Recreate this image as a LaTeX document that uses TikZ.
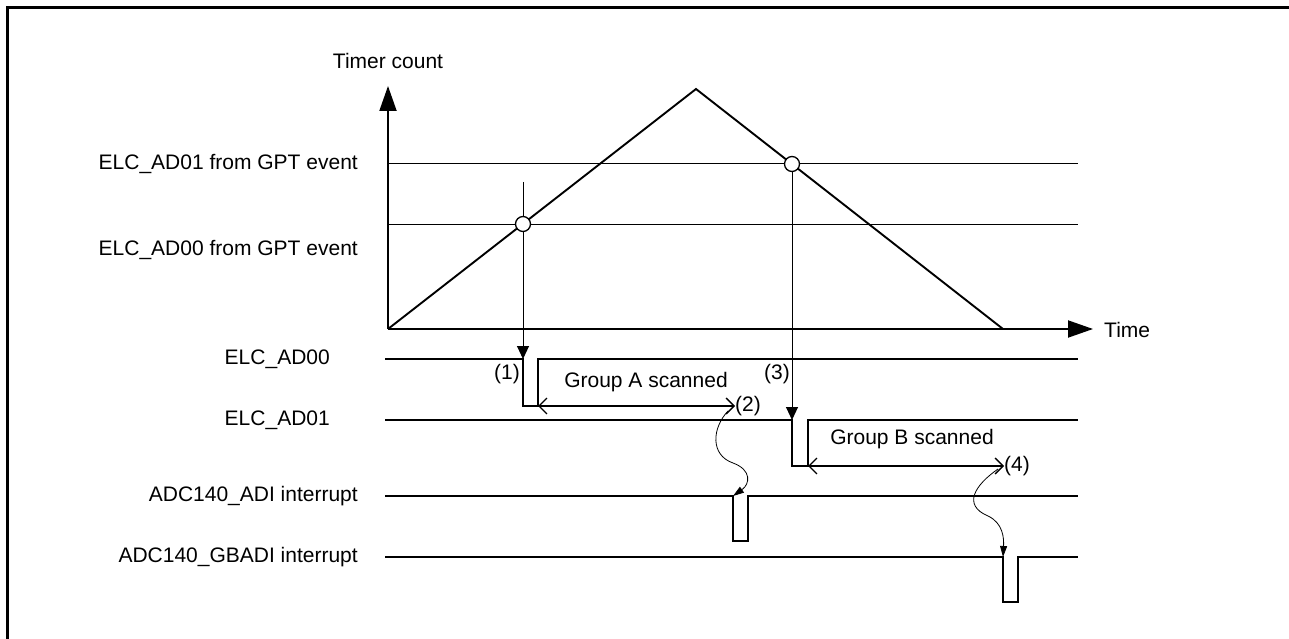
\documentclass[tikz,border=0pt]{standalone}
\usepackage{fontspec}
\setmainfont{Liberation Sans}
\usetikzlibrary{arrows.meta}
\begin{document}
\begin{tikzpicture}[x=1pt,y=-1pt,
  lbl/.style={font=\fontsize{21}{25}\selectfont, inner sep=0pt},
  sig/.style={line width=1.9pt, line join=miter},
  fine/.style={line width=1pt},
  axis/.style={line width=1.9pt, -{Triangle[length=25pt,width=17pt]}},
  evt/.style={line width=1pt, -{Triangle[length=13pt,width=12pt]}},
  span/.style={line width=1.3pt, {Straight Barb[length=8pt,width=16pt]}-{Straight Barb[length=8pt,width=16pt]}},
  wiggle/.style={line width=0.8pt, -{Triangle[length=11pt,width=7pt]}},
  hitcircle/.style={circle, draw, fill=white, line width=1.3pt, minimum size=15pt, inner sep=0pt}]
\useasboundingbox (0,0) rectangle (1289,639);
% frame
\draw[line width=3pt] (7.5,639) -- (7.5,7.5) -- (1289,7.5);
% coordinates
\coordinate (O) at (388,329);
\coordinate (ytop) at (388,86);
\coordinate (xend) at (1093,329);
\coordinate (peak) at (696,89);
\coordinate (tend) at (1003,329);
% axes
\draw[axis] (O) -- (ytop);
\draw[axis] (O) -- (xend);
\node[lbl] (tc) at (388,61) {Timer count};
\node[lbl, anchor=west] (tm) at (1104,330) {Time};
% compare levels
\coordinate (l1a) at (388,164); \coordinate (l1b) at (1078,164);
\coordinate (l0a) at (388,224); \coordinate (l0b) at (1078,224);
\draw[fine] (l1a) -- (l1b);
\draw[fine] (l0a) -- (l0b);
\node[lbl, anchor=east] (lv1) at (358,164) {ELC\_AD01 from GPT event};
\node[lbl, anchor=east] (lv0) at (358,250) {ELC\_AD00 from GPT event};
% triangle
\draw[sig] (O) -- (peak) -- (tend);
% event lines
\coordinate (e0top) at (523,182);
\coordinate (e0) at (523,359);
\coordinate (e1) at (792,420);
\draw[evt] (e0top) -- (e0);
\node[hitcircle] (c0) at (523,224) {};
\node[hitcircle] (c1) at (792,164) {};
\draw[evt] (c1.south) -- (e1);
% signal labels
\node[lbl, anchor=east] (s0) at (330,359) {ELC\_AD00};
\node[lbl, anchor=east] (s1) at (330,420) {ELC\_AD01};
\node[lbl, anchor=east] (s2) at (358,496) {ADC140\_ADI interrupt};
\node[lbl, anchor=east] (s3) at (358,557) {ADC140\_GBADI interrupt};
% waveforms
\draw[sig] (385,359) -- (e0) -- (523,406) -- (538,406) -- (538,359) -- (1078,359);
\draw[sig] (385,420) -- (e1) -- (792,466) -- (808,466) -- (808,420) -- (1078,420);
\draw[sig] (385,496) -- (733,496) -- (733,541) -- (748,541) -- (748,496) -- (1078,496);
\draw[sig] (385,557) -- (1003,557) -- (1003,602) -- (1018,602) -- (1018,557) -- (1078,557);
% scan spans
\coordinate (aS) at (538,406); \coordinate (aE) at (735,406);
\coordinate (bS) at (808,466); \coordinate (bE) at (1004,466);
\draw[span] (aS) -- (aE);
\draw[span] (bS) -- (bE);
\node[lbl] (ga) at (646,382) {Group A scanned};
\node[lbl] (gb) at (912,439) {Group B scanned};
\node[lbl] (n1) at (507,374) {(1)};
\node[lbl, anchor=west] (n2) at (735,406) {(2)};
\node[lbl] (n3) at (777,374) {(3)};
\node[lbl, anchor=west] (n4) at (1004,466) {(4)};
% wiggly arrows
\coordinate (adi) at (733,496);
\coordinate (gbadi) at (1003,557);
\draw[wiggle] (728,411) .. controls (712,428) and (710,455) .. (733,463) .. controls (752,470) and (750,484) .. (adi);
\draw[wiggle] (998,469) .. controls (975,485) and (962,505) .. (988,516) .. controls (1003,523) and (1004,538) .. (gbadi);
\end{tikzpicture}
\end{document}
